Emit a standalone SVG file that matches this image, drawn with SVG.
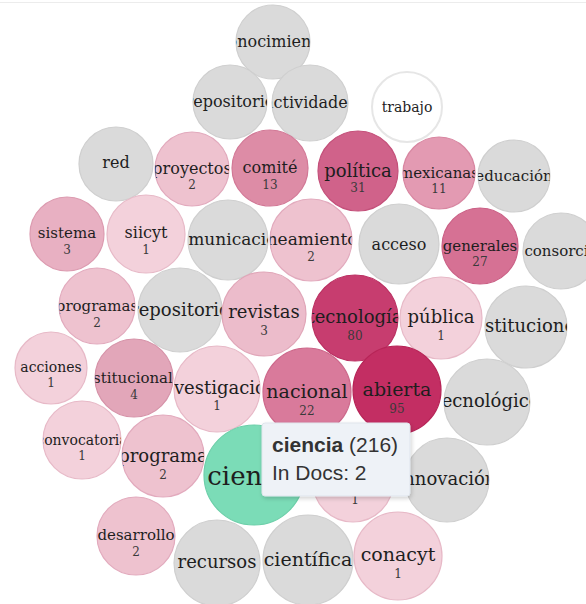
<svg xmlns="http://www.w3.org/2000/svg" width="586" height="604" viewBox="0 0 586 604">
  <style>
    .bub { stroke-width: 1.2; }
    .g { fill: #dadada; stroke: #cfcfcf; }
    .w { fill: #ffffff; stroke: #e6e6e6; stroke-width: 2; }
    .c1 { fill: #f3d1db; stroke: #e7b9c7; }
    .c2 { fill: #eec2cf; stroke: #e2aabd; }
    .c3 { fill: #e8b0c2; stroke: #dc9bb0; }
    .c3b { fill: #ecbccb; stroke: #e0a6b8; }
    .c4 { fill: #e2a6b9; stroke: #d692a8; }
    .c11 { fill: #e39ab2; stroke: #d886a1; }
    .c13 { fill: #dd8ca6; stroke: #d27896; }
    .c22 { fill: #d97a9b; stroke: #cd688b; }
    .c27 { fill: #d67194; stroke: #ca5e84; }
    .c31 { fill: #d0628a; stroke: #c4507a; }
    .c80 { fill: #c73d6f; stroke: #bb3062; }
    .c95 { fill: #c32e63; stroke: #b72457; }
    .grn { fill: #7bdcb7; stroke: #6ccfa9; }
    .word { font-family: "DejaVu Serif", "Liberation Serif", serif; fill: #1e1e1e; text-anchor: middle; }
    .num { font-family: "DejaVu Serif", "Liberation Serif", serif; fill: #3a3a3a; text-anchor: middle; font-size: 12px; }
    .tip { font-family: "Liberation Sans", Arial, sans-serif; font-size: 21px; fill: #333; }
  </style>
  <defs>
    <filter id="shadow" x="-10%" y="-15%" width="125%" height="140%">
      <feDropShadow dx="1" dy="2" stdDeviation="2" flood-color="#000" flood-opacity="0.18"/>
    </filter>
    <clipPath id="k1"><circle cx="273" cy="42" r="37"/></clipPath>
    <clipPath id="k2"><circle cx="230" cy="102" r="37"/></clipPath>
    <clipPath id="k3"><circle cx="310" cy="103" r="38"/></clipPath>
    <clipPath id="k4"><circle cx="407" cy="107" r="35"/></clipPath>
    <clipPath id="k5"><circle cx="116" cy="164" r="37"/></clipPath>
    <clipPath id="k6"><circle cx="192" cy="169" r="37"/></clipPath>
    <clipPath id="k7"><circle cx="270" cy="168" r="38"/></clipPath>
    <clipPath id="k8"><circle cx="358" cy="171" r="40"/></clipPath>
    <clipPath id="k9"><circle cx="439" cy="173" r="36"/></clipPath>
    <clipPath id="k10"><circle cx="514" cy="176" r="36"/></clipPath>
    <clipPath id="k11"><circle cx="67" cy="234" r="37"/></clipPath>
    <clipPath id="k12"><circle cx="146" cy="234" r="39"/></clipPath>
    <clipPath id="k13"><circle cx="228" cy="240" r="40"/></clipPath>
    <clipPath id="k14"><circle cx="311" cy="240" r="41"/></clipPath>
    <clipPath id="k15"><circle cx="399" cy="244" r="40"/></clipPath>
    <clipPath id="k16"><circle cx="480" cy="246" r="38"/></clipPath>
    <clipPath id="k17"><circle cx="561" cy="251" r="38"/></clipPath>
    <clipPath id="k18"><circle cx="97" cy="306" r="38"/></clipPath>
    <clipPath id="k19"><circle cx="180" cy="310" r="42"/></clipPath>
    <clipPath id="k20"><circle cx="264" cy="314" r="42"/></clipPath>
    <clipPath id="k21"><circle cx="355" cy="318" r="43"/></clipPath>
    <clipPath id="k22"><circle cx="441" cy="318" r="41"/></clipPath>
    <clipPath id="k23"><circle cx="526" cy="327" r="41"/></clipPath>
    <clipPath id="k24"><circle cx="51" cy="368" r="36"/></clipPath>
    <clipPath id="k25"><circle cx="134" cy="378" r="39"/></clipPath>
    <clipPath id="k26"><circle cx="217" cy="389" r="43"/></clipPath>
    <clipPath id="k27"><circle cx="307" cy="392" r="44"/></clipPath>
    <clipPath id="k28"><circle cx="397" cy="390" r="44"/></clipPath>
    <clipPath id="k29"><circle cx="487" cy="402" r="43"/></clipPath>
    <clipPath id="k30"><circle cx="82" cy="440" r="39"/></clipPath>
    <clipPath id="k31"><circle cx="163" cy="456" r="41"/></clipPath>
    <clipPath id="k32"><circle cx="254" cy="475" r="50"/></clipPath>
    <clipPath id="k34"><circle cx="447" cy="480" r="42"/></clipPath>
    <clipPath id="k35"><circle cx="136" cy="536" r="39"/></clipPath>
    <clipPath id="k36"><circle cx="217" cy="563" r="43"/></clipPath>
    <clipPath id="k37"><circle cx="308" cy="560" r="45"/></clipPath>
    <clipPath id="k38"><circle cx="398" cy="556" r="44"/></clipPath>
  </defs>

  <rect width="586" height="604" fill="#ffffff"/>
  <line x1="0" y1="2.5" x2="586" y2="2.5" stroke="#ececec" stroke-width="1"/>

  <g id="connectors"></g>

  <g id="n-conocimiento"><circle class="bub g" cx="273" cy="42" r="37"/><g clip-path="url(#k1)"><text class="word" x="273" y="47" font-size="16">conocimiento</text></g></g>
  <g id="n-repositorio-a"><circle class="bub g" cx="230" cy="102" r="37"/><g clip-path="url(#k2)"><text class="word" x="230" y="107" font-size="16">repositorio</text></g></g>
  <g id="n-actividades"><circle class="bub g" cx="310" cy="103" r="38"/><g clip-path="url(#k3)"><text class="word" x="310" y="108" font-size="16">actividades</text></g></g>
  <g id="n-trabajo"><circle class="bub w" cx="407" cy="107" r="35"/><g clip-path="url(#k4)"><text class="word" x="407" y="112" font-size="14">trabajo</text></g></g>

  <g id="n-red"><circle class="bub g" cx="116" cy="164" r="37"/><g clip-path="url(#k5)"><text class="word" x="116" y="168" font-size="16">red</text></g></g>
  <g id="n-proyectos"><circle class="bub c2" cx="192" cy="169" r="37"/><g clip-path="url(#k6)"><text class="word" x="192" y="174" font-size="16">proyectos</text><text class="num" x="192" y="189">2</text></g></g>
  <g id="n-comite"><circle class="bub c13" cx="270" cy="168" r="38"/><g clip-path="url(#k7)"><text class="word" x="270" y="173" font-size="16">comité</text><text class="num" x="270" y="189">13</text></g></g>
  <g id="n-politica"><circle class="bub c31" cx="358" cy="171" r="40"/><g clip-path="url(#k8)"><text class="word" x="358" y="177" font-size="18">política</text><text class="num" x="358" y="192" font-size="13">31</text></g></g>
  <g id="n-mexicanas"><circle class="bub c11" cx="439" cy="173" r="36"/><g clip-path="url(#k9)"><text class="word" x="439" y="178" font-size="15">mexicanas</text><text class="num" x="439" y="193">11</text></g></g>
  <g id="n-educacion"><circle class="bub g" cx="514" cy="176" r="36"/><g clip-path="url(#k10)"><text class="word" x="514" y="181" font-size="15">educación</text></g></g>

  <g id="n-sistema"><circle class="bub c3" cx="67" cy="234" r="37"/><g clip-path="url(#k11)"><text class="word" x="67" y="238" font-size="15">sistema</text><text class="num" x="67" y="254">3</text></g></g>
  <g id="n-siicyt"><circle class="bub c1" cx="146" cy="234" r="39"/><g clip-path="url(#k12)"><text class="word" x="146" y="238" font-size="16">siicyt</text><text class="num" x="146" y="254">1</text></g></g>
  <g id="n-comunicacion"><circle class="bub g" cx="228" cy="240" r="40"/><g clip-path="url(#k13)"><text class="word" x="228" y="245" font-size="17">comunicación</text></g></g>
  <g id="n-lineamientos"><circle class="bub c2" cx="311" cy="240" r="41"/><g clip-path="url(#k14)"><text class="word" x="311" y="245" font-size="17">lineamientos</text><text class="num" x="311" y="261" font-size="13">2</text></g></g>
  <g id="n-acceso"><circle class="bub g" cx="399" cy="244" r="40"/><g clip-path="url(#k15)"><text class="word" x="399" y="250" font-size="16">acceso</text></g></g>
  <g id="n-generales"><circle class="bub c27" cx="480" cy="246" r="38"/><g clip-path="url(#k16)"><text class="word" x="480" y="251" font-size="15">generales</text><text class="num" x="480" y="266">27</text></g></g>
  <g id="n-consorcio"><circle class="bub g" cx="561" cy="251" r="38"/><g clip-path="url(#k17)"><text class="word" x="561" y="256" font-size="15">consorcio</text></g></g>

  <g id="n-programas"><circle class="bub c2" cx="97" cy="306" r="38"/><g clip-path="url(#k18)"><text class="word" x="97" y="311" font-size="15">programas</text><text class="num" x="97" y="327">2</text></g></g>
  <g id="n-repositorio-b"><circle class="bub g" cx="180" cy="310" r="42"/><g clip-path="url(#k19)"><text class="word" x="180" y="316" font-size="18">repositorio</text></g></g>
  <g id="n-revistas"><circle class="bub c3b" cx="264" cy="314" r="42"/><g clip-path="url(#k20)"><text class="word" x="264" y="318" font-size="18">revistas</text><text class="num" x="264" y="335" font-size="13">3</text></g></g>
  <g id="n-tecnologia"><circle class="bub c80" cx="355" cy="318" r="43"/><g clip-path="url(#k21)"><text class="word" x="355" y="323" font-size="18">tecnología</text><text class="num" x="355" y="340" font-size="13">80</text></g></g>
  <g id="n-publica"><circle class="bub c1" cx="441" cy="318" r="41"/><g clip-path="url(#k22)"><text class="word" x="441" y="323" font-size="18">pública</text><text class="num" x="441" y="340" font-size="13">1</text></g></g>
  <g id="n-instituciones"><circle class="bub g" cx="526" cy="327" r="41"/><g clip-path="url(#k23)"><text class="word" x="526" y="332" font-size="18">instituciones</text></g></g>

  <g id="n-acciones"><circle class="bub c1" cx="51" cy="368" r="36"/><g clip-path="url(#k24)"><text class="word" x="51" y="372" font-size="14">acciones</text><text class="num" x="51" y="387">1</text></g></g>
  <g id="n-institucionales"><circle class="bub c4" cx="134" cy="378" r="39"/><g clip-path="url(#k25)"><text class="word" x="134" y="383" font-size="15">institucionales</text><text class="num" x="134" y="399">4</text></g></g>
  <g id="n-investigacion"><circle class="bub c1" cx="217" cy="389" r="43"/><g clip-path="url(#k26)"><text class="word" x="217" y="394" font-size="18">investigación</text><text class="num" x="217" y="410" font-size="13">1</text></g></g>
  <g id="n-nacional"><circle class="bub c22" cx="307" cy="392" r="44"/><g clip-path="url(#k27)"><text class="word" x="307" y="398" font-size="19">nacional</text><text class="num" x="307" y="415" font-size="13">22</text></g></g>
  <g id="n-abierta"><circle class="bub c95" cx="397" cy="390" r="44"/><g clip-path="url(#k28)"><text class="word" x="397" y="396" font-size="19">abierta</text><text class="num" x="397" y="413" font-size="13">95</text></g></g>
  <g id="n-tecnologico"><circle class="bub g" cx="487" cy="402" r="43"/><g clip-path="url(#k29)"><text class="word" x="487" y="407" font-size="18">tecnológico</text></g></g>

  <g id="n-convocatoria"><circle class="bub c1" cx="82" cy="440" r="39"/><g clip-path="url(#k30)"><text class="word" x="82" y="445" font-size="14">convocatoria</text><text class="num" x="82" y="460">1</text></g></g>
  <g id="n-programa"><circle class="bub c2" cx="163" cy="456" r="41"/><g clip-path="url(#k31)"><text class="word" x="163" y="462" font-size="18">programa</text><text class="num" x="163" y="479" font-size="13">2</text></g></g>
  <g id="n-ciencia"><circle class="bub grn" cx="254" cy="475" r="50"/><g clip-path="url(#k32)"><text class="word" x="254" y="485" font-size="26">ciencia</text></g></g>
  <g id="n-hidden"><circle class="bub c1" cx="353" cy="482" r="40"/><text class="num" x="355" y="504" font-size="13">1</text></g>
  <g id="n-innovacion"><circle class="bub g" cx="447" cy="480" r="42"/><g clip-path="url(#k34)"><text class="word" x="447" y="485" font-size="18">innovación</text></g></g>

  <g id="n-desarrollo"><circle class="bub c2" cx="136" cy="536" r="39"/><g clip-path="url(#k35)"><text class="word" x="136" y="540" font-size="15">desarrollo</text><text class="num" x="136" y="556">2</text></g></g>
  <g id="n-recursos"><circle class="bub g" cx="217" cy="563" r="43"/><g clip-path="url(#k36)"><text class="word" x="217" y="568" font-size="18">recursos</text></g></g>
  <g id="n-cientifica"><circle class="bub g" cx="308" cy="560" r="45"/><g clip-path="url(#k37)"><text class="word" x="308" y="566" font-size="19">científica</text></g></g>
  <g id="n-conacyt"><circle class="bub c1" cx="398" cy="556" r="44"/><g clip-path="url(#k38)"><text class="word" x="398" y="561" font-size="19">conacyt</text><text class="num" x="398" y="578" font-size="13">1</text></g></g>

  <g id="tooltip">
    <rect x="262" y="423" width="148" height="73" rx="3" fill="#eef2f7" stroke="#dfe5ec" filter="url(#shadow)"/>
    <text class="tip" x="272" y="452"><tspan font-weight="bold">ciencia</tspan> (216)</text>
    <text class="tip" x="272" y="480">In Docs: 2</text>
  </g>
</svg>
